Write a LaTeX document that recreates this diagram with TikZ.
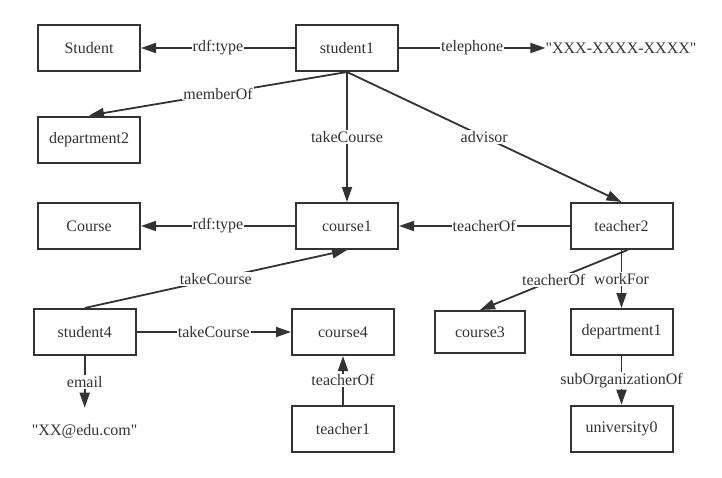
\documentclass[tikz,border=0pt]{standalone}
\usepackage{fontspec}
\newfontfamily\rdffont{Liberation Serif}
\usetikzlibrary{arrows.meta}
\definecolor{ink}{HTML}{333333}
\begin{document}
\begin{tikzpicture}[x=1pt,y=-1pt,
  txt/.style={font=\rdffont\fontsize{16}{19}\selectfont, text=ink},
  box/.style={txt, draw=ink, line width=2pt, minimum width=102pt, minimum height=46pt, inner sep=0pt},
  lit/.style={txt, inner sep=0pt},
  rel/.style={draw=ink, line width=1.8pt, -{Triangle[length=15pt,width=10pt]}},
  lbl/.style={txt, fill=white, inner sep=1pt}]
\useasboundingbox (0,0) rectangle (722,477);
\node[box] (Student) at (89,48) {Student};
\node[box] (student1) at (347,48) {student1};
\node[lit] (phone) at (621,48) {"XXX-XXXX-XXXX"};
\node[box] (department2) at (89,139.5) {department2};
\node[box] (Course) at (89,226) {Course};
\node[box] (course1) at (347,226) {course1};
\node[box] (teacher2) at (621.5,226) {teacher2};
\node[box] (student4) at (84.7,332) {student4};
\node[box] (course4) at (343,332) {course4};
\node[box, minimum width=90pt, minimum height=42pt] (course3) at (480,332) {course3};
\node[box] (department1) at (621.5,332) {department1};
\node[box] (teacher1) at (343,428.7) {teacher1};
\node[box] (university0) at (621.5,428.7) {university0};
\node[lit, inner ysep=16pt] (mail) at (84.7,431) {"XX@edu.com"};

\draw[rel] (student1) -- node[lbl]{rdf:type} (Student);
\draw[rel] (student1) -- node[lbl]{telephone} (phone);
\draw[rel] (student1.south) -- node[lbl]{memberOf} (department2.north);
\draw[rel] (student1) -- node[lbl]{takeCourse} (course1);
\draw[rel] (student1.south) -- node[lbl]{advisor} (teacher2.north);
\draw[rel] (course1) -- node[lbl]{rdf:type} (Course);
\draw[rel] (teacher2) -- node[lbl]{teacherOf} (course1);
\draw[rel] (student4.north) -- node[lbl]{takeCourse} (course1.south);
\draw[rel] (student4) -- node[lbl]{takeCourse} (course4);
\draw[rel] (student4.south) -- node[lbl]{email} (mail.north);
\draw[rel] (teacher1) -- node[lbl]{teacherOf} (course4);
\draw[rel] ([xshift=6pt]teacher2.south) -- node[lbl]{teacherOf} (course3.north);
\draw[rel] (teacher2) -- node[lbl]{workFor} (department1);
\draw[rel] (department1) -- node[lbl]{subOrganizationOf} (university0);
\end{tikzpicture}
\end{document}
